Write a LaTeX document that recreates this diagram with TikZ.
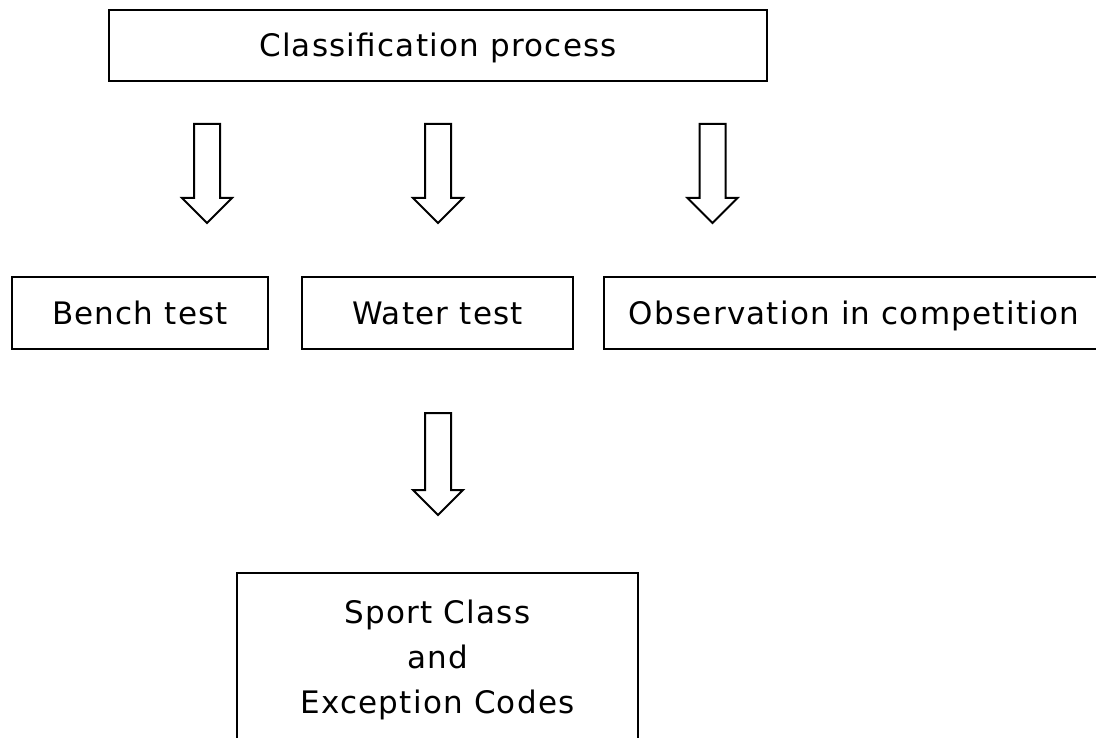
\documentclass[tikz,border=0pt]{standalone}
\usepackage{fontspec}
\setmainfont{DejaVu Sans}[LetterSpace=4.0]

\tikzset{
    stagebox/.style={draw, line width=2.2pt, align=center, inner sep=0pt,
        font=\fontsize{31}{45}\selectfont},
    oneline/.style={text height=23pt, text depth=0pt},
    blockarrow/.style={draw, line width=2pt, fill=white, line join=miter}
}

\begin{document}
\begin{tikzpicture}[x=1pt, y=-1pt]

        \fill[white] (0,0) rectangle (1096,738);
        \useasboundingbox (0,0) rectangle (1096,738);

        \node[stagebox, oneline, minimum width=658pt, minimum height=71pt] (proc) at (438,45.5) {Classification process};

        \node[stagebox, oneline, minimum width=256pt, minimum height=72pt] (bench) at (140,313) {Bench test};
        \node[stagebox, oneline, minimum width=271pt, minimum height=72pt] (water) at (437.5,313) {Water test};
        \node[stagebox, oneline, minimum width=500pt, minimum height=72pt] (obs) at (854,313) {Observation in competition};

        \node[stagebox, minimum width=401pt, minimum height=174pt] (result) at (437.5,660) {Sport Class\\and\\Exception Codes};

        % hollow arrows: centre, top, head base, tip
        \foreach \cx/\top/\base/\tip in {207/124/198/223, 438/124/198/223, 712.5/124/198/223, 438/413/490/515} {%
            \draw[blockarrow] (\cx-13,\top) -- (\cx+13,\top) -- (\cx+13,\base) -- (\cx+25,\base)
                -- (\cx,\tip) -- (\cx-25,\base) -- (\cx-13,\base) -- cycle;%
        }

\end{tikzpicture}
\end{document}
